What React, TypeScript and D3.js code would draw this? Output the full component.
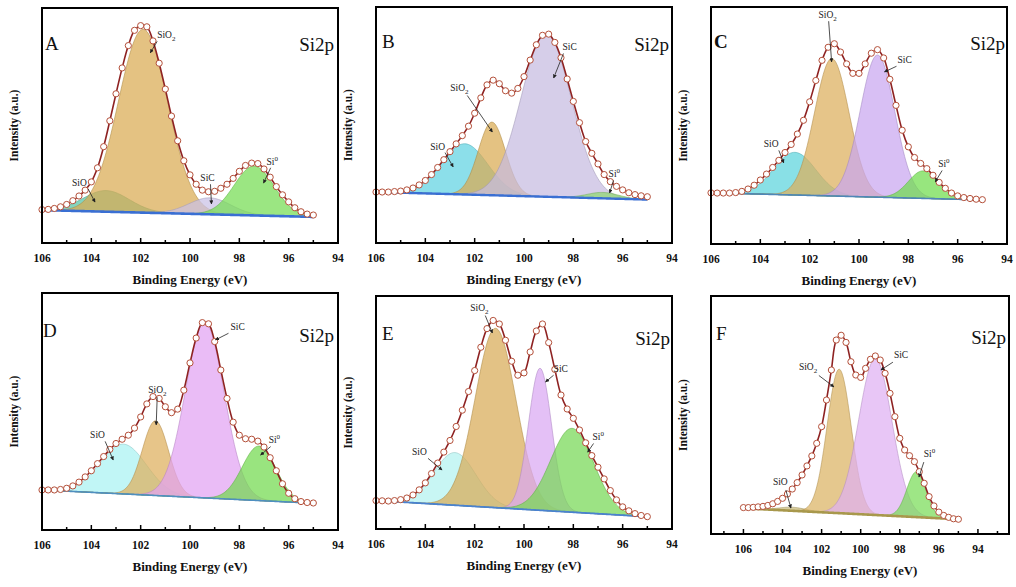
import React from 'react';
import * as d3 from 'd3';

// binding energy grid of the measured points (eV)
const energy = d3.range(106, 94.99, -0.25);

const measuredA = [14.2, 14.3, 14.7, 15.4, 16.4, 18.0, 20.0, 22.5, 26.0, 32.0, 41.0, 52.0, 63.5, 74.5, 84.0, 90.5, 92.5, 92.0, 86.0, 76.5, 65.5, 54.0, 43.5, 35.0, 29.0, 25.0, 22.5, 21.8, 22.0, 23.3, 25.0, 27.5, 30.5, 33.0, 34.0, 33.8, 31.5, 28.0, 24.0, 20.5, 17.5, 15.0, 13.3, 12.3, 11.9];
const measuredB = [21.6, 21.6, 21.6, 21.8, 22.0, 22.5, 23.3, 24.6, 26.5, 29.0, 32.0, 35.3, 38.7, 42.0, 45.5, 49.5, 55.0, 61.5, 67.0, 69.0, 67.5, 64.5, 63.5, 65.5, 70.5, 77.5, 84.0, 88.0, 88.5, 85.0, 78.5, 69.5, 60.0, 51.0, 43.0, 38.0, 33.5, 29.0, 26.0, 24.0, 22.5, 21.3, 20.5, 20.0, 19.6];
const measuredC = [21.6, 21.5, 21.5, 21.5, 21.7, 22.2, 23.2, 24.8, 27.0, 29.5, 32.3, 35.3, 38.6, 42.0, 46.4, 52.2, 60.0, 69.0, 77.5, 83.0, 84.5, 81.0, 76.0, 72.0, 72.0, 76.0, 80.5, 82.0, 78.5, 69.5, 58.5, 48.0, 41.0, 36.5, 34.0, 31.8, 29.0, 26.0, 23.5, 21.5, 20.3, 19.6, 19.2, 18.9, 18.7];
const measuredD = [16.9, 16.9, 16.9, 17.1, 17.6, 18.6, 20.2, 22.4, 25.0, 28.0, 31.0, 34.0, 36.5, 38.3, 40.0, 43.0, 47.7, 53.2, 56.3, 55.5, 52.0, 49.5, 51.0, 59.0, 70.5, 81.0, 87.5, 87.0, 79.5, 67.5, 55.5, 45.5, 40.0, 38.5, 38.3, 37.5, 35.0, 30.5, 25.0, 19.5, 15.5, 13.2, 12.0, 11.6, 11.4];
const measuredE = [12.2, 12.1, 12.0, 12.2, 12.6, 13.3, 14.6, 16.8, 19.8, 23.8, 28.3, 33.0, 38.0, 44.0, 51.0, 59.0, 68.0, 78.0, 86.0, 89.5, 88.0, 81.0, 72.0, 66.0, 67.0, 76.0, 85.0, 88.0, 80.0, 68.5, 57.5, 51.5, 47.5, 42.5, 37.0, 31.5, 26.5, 21.5, 16.5, 12.5, 9.5, 7.8, 6.6, 5.8, 5.3];
const measuredF = [11.1, 11.1, 11.2, 11.4, 11.6, 12.0, 12.7, 13.7, 15.0, 16.8, 18.9, 21.6, 24.8, 28.6, 32.8, 38.1, 45.1, 56.3, 68.9, 81.5, 83.5, 80.5, 72.4, 66.8, 65.8, 69.6, 73.4, 74.8, 73.1, 67.5, 59.1, 49.3, 40.2, 35.3, 32.9, 30.4, 26.2, 21.3, 15.7, 11.8, 9.2, 7.8, 7.0, 6.4, 6.2];

// fitted components, order: SiO, SiO2, SiC, Si0
const peakNames = ['SiO', 'SiO2', 'SiC', 'Si0'];
const centersA = [103.4, 101.9, 99.2, 97.4];
const heightsA = [9, 78, 7, 21];
const fwhmA = [2.2, 2.35, 2.0, 1.9];
const centersB = [102.4, 101.3, 99.1, 96.8];
const heightsB = [21.5, 31, 69, 2.5];
const fwhmB = [2.2, 1.3, 2.4, 1.5];
const centersC = [102.6, 101.1, 99.25, 97.4];
const heightsC = [18, 58, 60, 11.6];
const fwhmC = [2.0, 1.65, 1.65, 1.4];
const centersD = [102.7, 101.4, 99.4, 97.2];
const heightsD = [21, 31.5, 74, 23];
const fwhmD = [2.2, 1.25, 1.85, 1.6];
const centersE = [102.8, 101.15, 99.35, 98.05];
const heightsE = [22.6, 77, 61, 36];
const fwhmE = [2.0, 1.95, 1.1, 2.05];
const centersF = [103.5, 101.1, 99.25, 97.15];
const heightsF = [1.5, 60.5, 65.7, 19];
const fwhmF = [1.6, 1.45, 2.0, 1.15];

// linear background: value at 106 eV, value at 95 eV
const backgroundA = [14.0, 11.1];
const backgroundB = [21.6, 18.4];
const backgroundC = [21.6, 18.6];
const backgroundD = [16.9, 11.3];
const backgroundE = [12.2, 5.3];
const backgroundF = [10.8, 6.2];

type Label = { name: string; tx: number; ty: number; a: [number, number, number, number] };

type Panel = {
  letter: string;
  box: [number, number, number, number]; // left, right, top, bottom
  domain: [number, number];
  measured: number[];
  centers: number[];
  heights: number[];
  fwhm: number[];
  background: number[];
  colors: string[];
  baseColor: string;
  baseWidth: number;
  letterPos: [number, number];
  tagPos: [number, number];
  letterBold?: boolean;
  labels: Label[];
};

const panels: Panel[] = [
  {
    letter: 'A', box: [42, 338, 8, 243], domain: [106, 94], measured: measuredA,
    centers: centersA, heights: heightsA, fwhm: fwhmA, background: backgroundA,
    colors: ['#55c4a6', '#d9ab52', '#c9c0e6', '#74dc52'], baseColor: '#3a6fd3', baseWidth: 2.6,
    letterPos: [45, 50], tagPos: [334, 51],
    labels: [
      { name: 'SiO2', tx: 101.33, ty: 87.2, a: [101.33, 85.8, 101.61, 80.9] },
      { name: 'SiO', tx: 104.78, ty: 24.3, a: [104.13, 23.0, 103.85, 17.4] },
      { name: 'SiC', tx: 99.58, ty: 26.4, a: [99.17, 25.0, 99.13, 16.6] },
      { name: 'Si0', tx: 96.9, ty: 33.2, a: [96.73, 32.0, 97.02, 25.5] },
    ],
  },
  {
    letter: 'B', box: [376, 672, 7, 243], domain: [106, 94], measured: measuredB,
    centers: centersB, heights: heightsB, fwhm: fwhmB, background: backgroundB,
    colors: ['#5fd2e2', '#d9ab52', '#c6bbe0', '#8fd870'], baseColor: '#3a6fd3', baseWidth: 2.4,
    letterPos: [382, 48], tagPos: [669, 51],
    labels: [
      { name: 'SiC', tx: 98.44, ty: 81.8, a: [98.4, 80.3, 98.8, 69.9] },
      { name: 'SiO2', tx: 102.99, ty: 64.4, a: [102.3, 62.5, 101.28, 47.0] },
      { name: 'SiO', tx: 103.8, ty: 39.4, a: [103.2, 38.3, 102.87, 32.2] },
      { name: 'Si0', tx: 96.57, ty: 28.0, a: [96.37, 26.5, 96.53, 21.2] },
    ],
  },
  {
    letter: 'C', box: [711, 1007, 7, 244], domain: [106, 94], measured: measuredC,
    centers: centersC, heights: heightsC, fwhm: fwhmC, background: backgroundC,
    colors: ['#5cd4dc', '#dcae5c', '#c9a6f0', '#6fdc4c'], baseColor: '#4f86b8', baseWidth: 1.6,
    letterPos: [714, 48], tagPos: [1005, 50], letterBold: true,
    labels: [
      { name: 'SiO2', tx: 101.64, ty: 95.4, a: [101.23, 94.0, 101.11, 76.8] },
      { name: 'SiC', tx: 98.44, ty: 76.4, a: [98.48, 75.0, 98.97, 72.6] },
      { name: 'SiO', tx: 103.86, ty: 40.9, a: [103.25, 39.5, 103.05, 34.2] },
      { name: 'Si0', tx: 96.79, ty: 32.5, a: [96.63, 31.0, 96.91, 26.2] },
    ],
  },
  {
    letter: 'D', box: [42, 338, 293, 530], domain: [106, 94], measured: measuredD,
    centers: centersD, heights: heightsD, fwhm: fwhmD, background: backgroundD,
    colors: ['#a9f2f2', '#deae5c', '#e2a2f2', '#71d94d'], baseColor: '#4f8fc0', baseWidth: 1.6,
    letterPos: [43, 337], tagPos: [334, 342],
    labels: [
      { name: 'SiC', tx: 98.36, ty: 84.4, a: [98.44, 83.0, 98.97, 80.2] },
      { name: 'SiO2', tx: 101.69, ty: 57.8, a: [101.33, 56.0, 101.37, 44.3] },
      { name: 'SiO', tx: 104.05, ty: 38.8, a: [103.44, 37.4, 103.11, 29.5] },
      { name: 'Si0', tx: 96.81, ty: 36.7, a: [96.73, 35.2, 97.14, 31.6] },
    ],
  },
  {
    letter: 'E', box: [376, 672, 296, 529], domain: [106, 94], measured: measuredE,
    centers: centersE, heights: heightsE, fwhm: fwhmE, background: backgroundE,
    colors: ['#b3f2f0', '#d8ab56', '#d9a8f2', '#76d854'], baseColor: '#4a82d0', baseWidth: 1.8,
    letterPos: [382, 340], tagPos: [670, 345],
    labels: [
      { name: 'SiO2', tx: 102.18, ty: 93.6, a: [101.57, 91.6, 101.28, 84.1] },
      { name: 'SiC', tx: 98.8, ty: 67.4, a: [98.8, 66.0, 99.13, 63.1] },
      { name: 'SiO', tx: 104.54, ty: 31.8, a: [103.89, 30.3, 103.32, 25.3] },
      { name: 'Si0', tx: 97.22, ty: 38.2, a: [97.18, 36.7, 97.42, 33.0] },
    ],
  },
  {
    letter: 'F', box: [711, 1009, 296, 534], domain: [107.66, 92.41], measured: measuredF,
    centers: centersF, heights: heightsF, fwhm: fwhmF, background: backgroundF,
    colors: ['#c8b878', '#dbb363', '#dfb0f2', '#79dc57'], baseColor: '#a8984c', baseWidth: 2.6,
    letterPos: [716, 340], tagPos: [1006, 344],
    labels: [
      { name: 'SiC', tx: 98.3, ty: 73.9, a: [98.35, 72.2, 98.97, 68.9] },
      { name: 'SiO2', tx: 103.16, ty: 68.9, a: [102.14, 66.6, 101.37, 61.8] },
      { name: 'SiO', tx: 104.49, ty: 20.6, a: [103.83, 18.5, 103.57, 10.9] },
      { name: 'Si0', tx: 96.77, ty: 32.4, a: [96.77, 30.2, 97.02, 23.9] },
    ],
  },
];

const serif = '"Liberation Serif", "Times New Roman", serif';
const fine = d3.range(106, 94.999, -0.05);

const gauss = (e: number, c: number, h: number, f: number) =>
  h * Math.exp(-4 * Math.LN2 * ((e - c) / f) ** 2);

function PeakLabel({ name }: { name: string }) {
  if (name === 'SiO2') return <>SiO<tspan dy={3} fontSize={7}>2</tspan></>;
  if (name === 'Si0') return <>Si<tspan dy={-4} fontSize={7}>0</tspan></>;
  return <>{name}</>;
}

function PanelView({ p }: { p: Panel }) {
  const [left, right, top, bottom] = p.box;
  const x = d3.scaleLinear().domain(p.domain).range([left, right]);
  const y = d3.scaleLinear().domain([0, 100]).range([bottom, top]);
  const bg = (e: number) => p.background[1] + ((p.background[0] - p.background[1]) * (e - 95)) / 11;

  const area = d3.area<number>()
    .x((e) => x(e))
    .y0((e) => y(bg(e)));

  const baseLine = d3.line<number>().x((e) => x(e)).y((e) => y(bg(e)));
  const pts = energy.map((e, i) => [e, p.measured[i]] as [number, number]);
  const envelope = d3.line<[number, number]>()
    .x((d) => x(d[0]))
    .y((d) => y(d[1]))
    .curve(d3.curveCatmullRom.alpha(0.5));

  const lo = Math.ceil(Math.min(...p.domain));
  const hi = Math.floor(Math.max(...p.domain));
  const ticks = d3.range(lo, hi + 1);
  const cx = (left + right) / 2;
  const cy = (top + bottom) / 2;

  return (
    <g>
      {peakNames.map((n, k) => {
        const a = area.y1((e) => y(bg(e) + gauss(e, p.centers[k], p.heights[k], p.fwhm[k])));
        return (
          <path key={n} d={a(fine) || ''} fill={p.colors[k]} fillOpacity={0.72}
            stroke={d3.color(p.colors[k])!.darker(0.6).toString()} strokeWidth={0.8} strokeOpacity={0.7} />
        );
      })}
      <path d={baseLine(fine) || ''} fill="none" stroke={p.baseColor} strokeWidth={p.baseWidth} />
      <path d={envelope(pts) || ''} fill="none" stroke="#8e2222" strokeWidth={1.6} />
      {pts.map((d, i) => (
        <circle key={i} cx={x(d[0])} cy={y(d[1])} r={3.1} fill="#fff" stroke="#b4503a" strokeWidth={1} />
      ))}
      {p.labels.map((l) => (
        <g key={l.name}>
          <text x={x(l.tx)} y={y(l.ty)} fontFamily={serif} fontSize={9.5} fill="#222">
            <PeakLabel name={l.name} />
          </text>
          <line x1={x(l.a[0])} y1={y(l.a[1])} x2={x(l.a[2])} y2={y(l.a[3])}
            stroke="#222" strokeWidth={0.8} markerEnd="url(#arrow)" />
        </g>
      ))}
      <rect x={left} y={top} width={right - left} height={bottom - top} fill="none" stroke="#000" strokeWidth={2} />
      {ticks.map((t) => (
        <line key={t} x1={x(t)} x2={x(t)} y1={bottom} y2={bottom - (t % 2 === 0 ? 5 : 3)} stroke="#000" strokeWidth={1.5} />
      ))}
      {ticks.filter((t) => t % 2 === 0).map((t) => (
        <text key={t} x={x(t)} y={bottom + 19} textAnchor="middle" fontFamily={serif}
          fontWeight="bold" fontSize={11.5} fill="#111">{t}</text>
      ))}
      <text x={cx} y={bottom + 41} textAnchor="middle" fontFamily={serif} fontWeight="bold" fontSize={13} fill="#111">
        Binding Energy (eV)
      </text>
      <text transform={`translate(${left - 24},${cy}) rotate(-90)`} textAnchor="middle" fontFamily={serif}
        fontWeight="bold" fontSize={11.5} fill="#111">Intensity (a.u.)</text>
      <text x={p.letterPos[0]} y={p.letterPos[1]} fontFamily={serif} fontSize={19}
        fontWeight={p.letterBold ? 'bold' : 'normal'} fill="#111">{p.letter}</text>
      <text x={p.tagPos[0]} y={p.tagPos[1]} textAnchor="end" fontFamily={serif} fontSize={19} fill="#111">Si2p</text>
    </g>
  );
}

export default function App() {
  return (
    <svg width={1016} height={587} style={{ position: 'absolute', left: 0, top: 0, background: '#fff' }}>
      <defs>
        <marker id="arrow" viewBox="0 0 10 10" refX="9" refY="5" markerWidth="5" markerHeight="5" orient="auto">
          <path d="M0,0 L10,5 L0,10 z" fill="#222" />
        </marker>
      </defs>
      {panels.map((p) => <PanelView key={p.letter} p={p} />)}
    </svg>
  );
}
